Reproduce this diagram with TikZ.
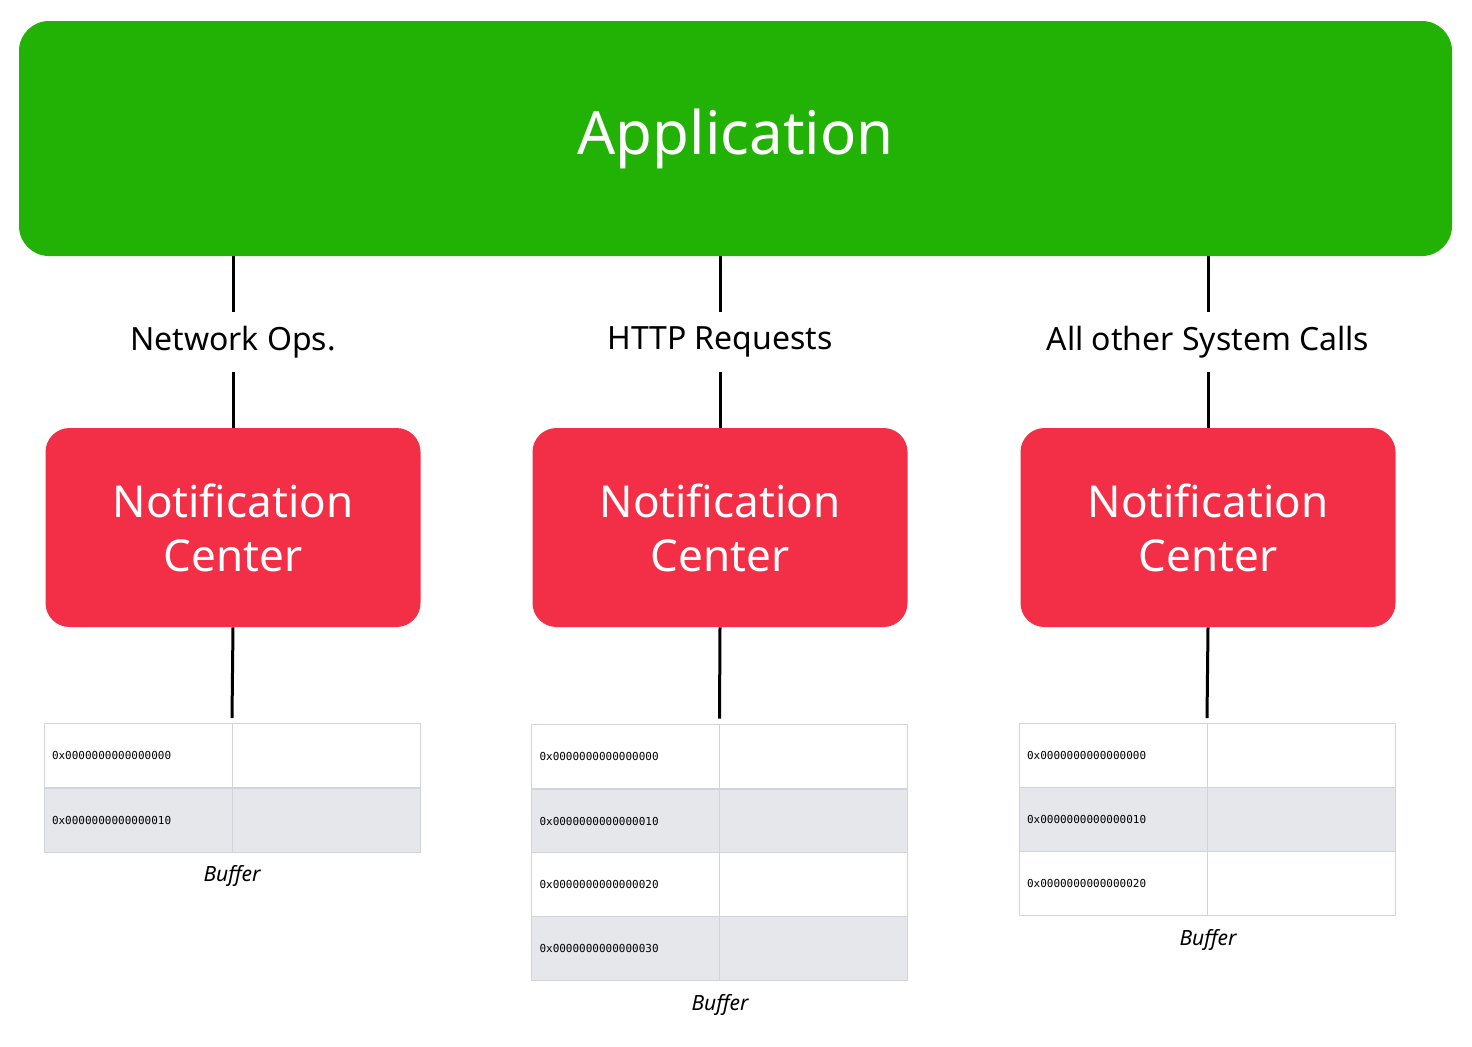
\documentclass[tikz,border=0pt]{standalone}
\usepackage{fontspec}
\setmainfont{Noto Sans}
\newfontfamily\hexfont{DejaVu Sans Mono}
\usetikzlibrary{positioning}
\definecolor{appColor}{HTML}{22B205}
\definecolor{centerColor}{HTML}{F22F46}
\definecolor{rowColor}{HTML}{E5E7EB}
\definecolor{edgeColor}{HTML}{D1D5DB}
\tikzset{app/.style={fill=appColor, text=white, rounded corners=15pt, minimum width=716.5pt, minimum height=117.5pt, font=\fontsize{30}{36}\selectfont}}
\tikzset{notify/.style={fill=centerColor, text=white, align=center, rounded corners=12pt, minimum width=187.5pt, minimum height=99.5pt, font=\fontsize{22}{27}\selectfont}}
\tikzset{call/.style={minimum height=30pt, inner sep=0pt, font=\fontsize{16}{19}\selectfont}}
\tikzset{row/.style={draw=edgeColor, line width=0.4pt, minimum width=188pt, minimum height=32pt, inner sep=0pt, font=\hexfont\fontsize{5.5}{6}\selectfont, text width=180pt}}
\tikzset{link/.style={line width=1.5pt}}
\tikzset{caption/.style={font=\itshape\fontsize{10.5}{12}\selectfont}}
\begin{document}
\begin{tikzpicture}[x=0.5pt, y=-0.5pt]
	\useasboundingbox (0,0) rectangle (1472,1046);
	% Nodes
	\node (app) [app] at (735.5,138.5) {Application};

	\node (call1) [call] at (233,342) {Network Ops.};
	\node (call2) [call] at (720,342) {HTTP Requests};
	\node (call3) [call] at (1208,342) {All other System Calls};

	\node (center1) [notify] at (233,527.5) {Notification\\Center};
	\node (center2) [notify] at (720,527.5) {Notification\\Center};
	\node (center3) [notify] at (1208,527.5) {Notification\\Center};

	% Buffers
	\node (buf1a) [row, fill=white] at (232,755.5) {0x0000000000000000};
	\node (buf1b) [row, fill=rowColor] at (232,820.5) {0x0000000000000010};
	\node (cap1) [caption] at (232,876) {Buffer};

	\node (buf2a) [row, fill=white] at (719.5,756) {0x0000000000000000};
	\node (buf2b) [row, fill=rowColor] at (719.5,821) {0x0000000000000010};
	\node (buf2c) [row, fill=white] at (719.5,884.5) {0x0000000000000020};
	\node (buf2d) [row, fill=rowColor] at (719.5,948.5) {0x0000000000000030};
	\node (cap2) [caption] at (720,1005) {Buffer};

	\node (buf3a) [row, fill=white] at (1207,755.5) {0x0000000000000000};
	\node (buf3b) [row, fill=rowColor] at (1207,819.5) {0x0000000000000010};
	\node (buf3c) [row, fill=white] at (1207,883) {0x0000000000000020};
	\node (cap3) [caption] at (1208,940) {Buffer};

	% Cell dividers
	\foreach \b in {buf1a,buf1b,buf2a,buf2b,buf2c,buf2d,buf3a,buf3b,buf3c}
		\draw [edgeColor, line width=0.4pt] (\b.north) -- (\b.south);

	% Connectors
	\foreach \i in {1,2,3} {
		\draw [link] (app.south -| call\i) -- (call\i.north);
		\draw [link] (call\i.south) -- (center\i.north);
		\draw [link] (center\i.south) -- ([yshift=2.5pt]buf\i a.north);
	}
\end{tikzpicture}
\end{document}
